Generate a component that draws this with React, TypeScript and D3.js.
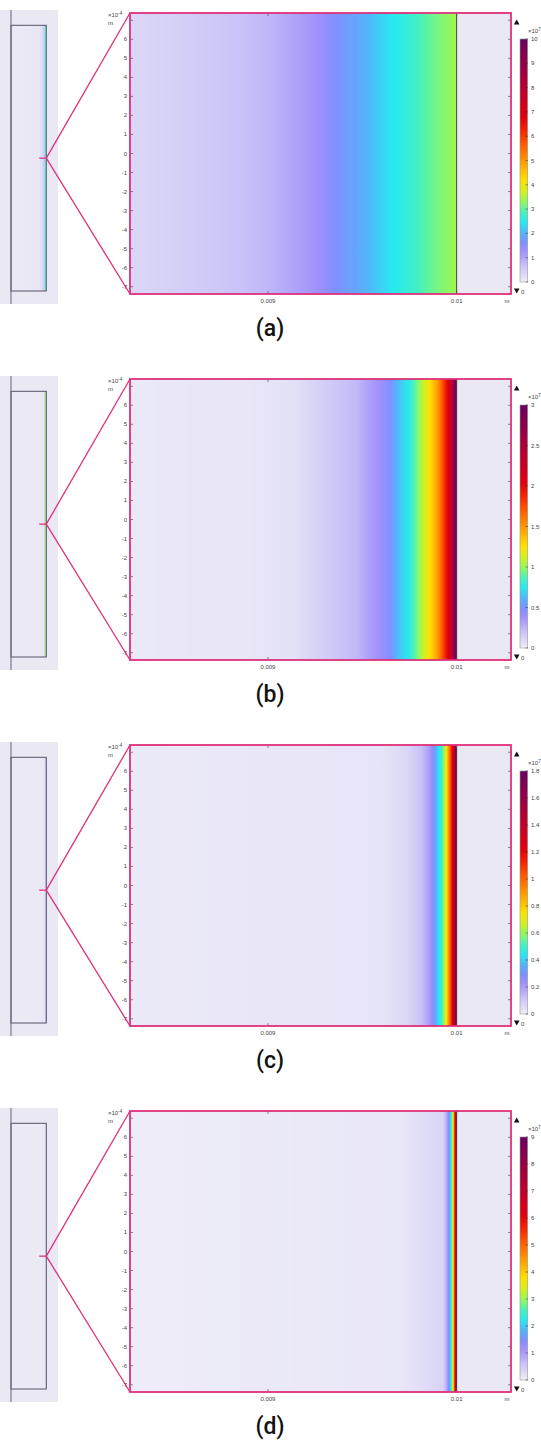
import React from "react";
import * as d3 from "d3";

// ---------- data ----------
const panelLabels = ["(a)", "(b)", "(c)", "(d)"];
const colorMax = [10, 3, 1.8, 9];
const colorTicks = [
  [0, 1, 2, 3, 4, 5, 6, 7, 8, 9, 10],
  [0, 0.5, 1, 1.5, 2, 2.5, 3],
  [0, 0.2, 0.4, 0.6, 0.8, 1, 1.2, 1.4, 1.6, 1.8],
  [0, 1, 2, 3, 4, 5, 6, 7, 8, 9],
];

// field profile along x (m), value in colour-bar units
const posA = [0, 0.0081, 0.008269, 0.0085, 0.00875, 0.009, 0.00913, 0.00925, 0.00934, 0.00951, 0.00966, 0.0098, 0.0099, 0.01];
const valA = [0, 0.15, 0.35, 0.45, 0.6, 0.8, 1.0, 1.25, 1.55, 2.0, 2.45, 2.85, 3.15, 3.4];
const posB = [0, 0.0082, 0.008947, 0.009127, 0.009302, 0.009477, 0.009567, 0.009636, 0.009689, 0.009742, 0.009795, 0.009848, 0.009901, 0.009938, 0.009965, 0.009991, 0.01];
const valB = [0, 0.02, 0.04, 0.06, 0.15, 0.24, 0.36, 0.45, 0.63, 0.74, 0.96, 1.2, 1.5, 1.86, 2.16, 2.85, 3.0];
const posC = [0, 0.008269, 0.009594, 0.009737, 0.009806, 0.009848, 0.009874, 0.009901, 0.009922, 0.009938, 0.009949, 0.009965, 0.00998, 0.009991, 0.01];
const valC = [0, 0.01, 0.027, 0.063, 0.117, 0.18, 0.27, 0.414, 0.504, 0.648, 0.792, 1.008, 1.26, 1.53, 1.8];
const posD = [0, 0.008269, 0.0097, 0.009927, 0.009949, 0.009959, 0.00997, 0.009975, 0.009982, 0.009987, 0.009993, 0.009996, 0.01];
const valD = [0, 0.02, 0.09, 0.36, 0.9, 1.53, 2.2, 2.88, 3.78, 5.04, 6.3, 8.1, 9.0];
const profilePos = [posA, posB, posC, posD];
const profileVal = [valA, valB, valC, valD];

const yTicks = [-7, -6, -5, -4, -3, -2, -1, 0, 1, 2, 3, 4, 5, 6, 7];
const yTickLabels = ["-7", "-6", "-5", "-4", "-3", "-2", "-1", "0", "1", "2", "3", "4", "5", "6", ""];
const xTicks = [0.009, 0.01];
const xTickLabels = ["0.009", "0.01"];
const xDomain = [0.008269, 0.010288];
const yDomain = [-7.38, 7.38];
const domainEdge = 0.01;
const insetEdgeSample = 0.0098;

// colour map (normalized position -> colour)
const cmapT = [0, 0.04, 0.07, 0.1, 0.13, 0.16, 0.2, 0.245, 0.28, 0.33, 0.37, 0.42, 0.49, 0.56, 0.63, 0.68, 0.8, 0.9, 1.0];
const cmapColors = ["#efeef8", "#d8d4f6", "#c8c0f8", "#b0a4f8", "#a090fc", "#8090ff", "#58b0fc", "#28e8f0", "#40f0c8", "#90f860", "#d0f020", "#ffe000", "#ffa000", "#ff6000", "#f02000", "#e00010", "#b80030", "#900048", "#6a0060"];

// ---------- layout ----------
const W = 541;
const H = 1441;
const PANEL_DY = 366;
const MAGENTA = "#e0307a";
const BG = "#eae8f3";
const FONT = "'Liberation Sans', 'DejaVu Sans', sans-serif";

const cmap = d3
  .scaleLinear<string>()
  .domain(cmapT)
  .range(cmapColors)
  .interpolate(d3.interpolateRgb)
  .clamp(true);

const xScale = d3.scaleLinear().domain(xDomain).range([130, 511]);
const yScale = d3.scaleLinear().domain(yDomain).range([294, 13]);
const insetX = d3.scaleLinear().domain([0, domainEdge]).range([11, 46.3]);
const insetY = d3.scaleLinear().domain([-1, 1]).range([291, 25.3]);

function Panel({ i }: { i: number }) {
  const prof = d3.scaleLinear().domain(profilePos[i]).range(profileVal[i]).clamp(true);
  const max = colorMax[i];
  const cbScale = d3.scaleLinear().domain([0, max]).range([282, 39]);
  const colorAt = (xm: number) => cmap(prof(xm) / max);

  const x0 = xScale(xDomain[0]);
  const x1 = xScale(domainEdge);
  const steps = Math.ceil((x1 - x0) * 4);
  const mainStops = d3.range(steps + 1).map((k) => {
    const px = x0 + ((x1 - x0) * k) / steps;
    return { off: k / steps, c: colorAt(xScale.invert(px)) };
  });
  const ix0 = insetX(0);
  const ix1 = insetX(domainEdge);
  const isteps = 200;
  const insetStops = d3.range(isteps + 1).map((k) => {
    const px = ix0 + ((ix1 - ix0) * k) / isteps;
    return { off: k / isteps, c: colorAt(insetX.invert(px)) };
  });

  const gid = `g-main-${i}`;
  const iid = `g-inset-${i}`;
  const cid = `g-cb-${i}`;
  const yc = insetY(0);
  const tickColor = "#555";
  const fs = 6;

  return (
    <g transform={`translate(0, ${i * PANEL_DY})`}>
      <defs>
        <linearGradient id={gid} gradientUnits="userSpaceOnUse" x1={x0} x2={x1} y1={0} y2={0}>
          {mainStops.map((s, k) => (
            <stop key={k} offset={s.off} stopColor={s.c} />
          ))}
        </linearGradient>
        <linearGradient id={iid} gradientUnits="userSpaceOnUse" x1={ix0} x2={ix1} y1={0} y2={0}>
          {insetStops.map((s, k) => (
            <stop key={k} offset={s.off} stopColor={s.c} />
          ))}
        </linearGradient>
        <linearGradient id={cid} gradientUnits="userSpaceOnUse" x1={0} x2={0} y1={cbScale(0)} y2={cbScale(max)}>
          {cmapT.map((t, k) => (
            <stop key={k} offset={t} stopColor={cmapColors[k]} />
          ))}
        </linearGradient>
      </defs>

      {/* inset overview */}
      <rect x={0} y={10} width={58} height={294} fill={BG} />
      <rect x={ix0} y={insetY(1)} width={ix1 - ix0} height={insetY(-1) - insetY(1)} fill={`url(#${iid})`} opacity={0.35} />
      <line x1={ix1 - 0.9} x2={ix1 - 0.9} y1={insetY(1)} y2={insetY(-1)} stroke={colorAt(insetEdgeSample)} strokeWidth={1} />
      <rect x={ix0} y={insetY(1)} width={ix1 - ix0} height={insetY(-1) - insetY(1)} fill="none" stroke="#55556a" strokeWidth={1} />
      <line x1={ix0} x2={ix0} y1={10} y2={304} stroke="#66667a" strokeWidth={1} />
      <line x1={insetX(xDomain[0]) - 1} x2={ix1} y1={yc} y2={yc} stroke={MAGENTA} strokeWidth={1.3} />

      {/* zoom lines */}
      <line x1={ix1} y1={yc} x2={xScale(xDomain[0])} y2={yScale(yDomain[1])} stroke={MAGENTA} strokeWidth={1.3} />
      <line x1={ix1} y1={yc} x2={xScale(xDomain[0])} y2={yScale(yDomain[0])} stroke={MAGENTA} strokeWidth={1.3} />

      {/* main plot */}
      <rect x={xScale(xDomain[0])} y={yScale(yDomain[1])} width={xScale(xDomain[1]) - xScale(xDomain[0])} height={yScale(yDomain[0]) - yScale(yDomain[1])} fill={BG} />
      <rect x={x0} y={yScale(yDomain[1])} width={x1 - x0} height={yScale(yDomain[0]) - yScale(yDomain[1])} fill={`url(#${gid})`} />
      <line x1={x1} x2={x1} y1={yScale(yDomain[1])} y2={yScale(yDomain[0])} stroke="#333" strokeWidth={0.9} />

      {/* ticks */}
      {yTicks.map((t) => (
        <g key={`yt${t}`}>
          <line x1={130} x2={133} y1={yScale(t)} y2={yScale(t)} stroke={tickColor} strokeWidth={0.7} />
          <line x1={508} x2={511} y1={yScale(t)} y2={yScale(t)} stroke={tickColor} strokeWidth={0.7} />
        </g>
      ))}
      {yTicks.map((t, k) => (
        <text key={`yl${t}`} x={127} y={yScale(t) + 2} fontSize={fs} textAnchor="end" fill="#444" fontFamily={FONT}>
          {yTickLabels[k]}
        </text>
      ))}
      {xTicks.map((t, k) => (
        <g key={`xt${k}`}>
          <line x1={xScale(t)} x2={xScale(t)} y1={294} y2={291} stroke={tickColor} strokeWidth={0.7} />
          <line x1={xScale(t)} x2={xScale(t)} y1={13} y2={16} stroke={tickColor} strokeWidth={0.7} />
          <text x={xScale(t)} y={303} fontSize={fs} textAnchor="middle" fill="#444" fontFamily={FONT}>
            {xTickLabels[k]}
          </text>
        </g>
      ))}
      <text x={507} y={303} fontSize={fs} textAnchor="middle" fill="#444" fontFamily={FONT}>m</text>
      <text x={108} y={17} fontSize={fs} fill="#444" fontFamily={FONT}>
        ×10<tspan dy={-2.5} fontSize={4.5}>-4</tspan>
      </text>
      <text x={108} y={25} fontSize={fs} fill="#444" fontFamily={FONT}>m</text>

      <rect x={xScale(xDomain[0])} y={yScale(yDomain[1])} width={xScale(xDomain[1]) - xScale(xDomain[0])} height={yScale(yDomain[0]) - yScale(yDomain[1])} fill="none" stroke={MAGENTA} strokeWidth={1.8} />

      {/* colour bar */}
      <path d={`M${516.7 - 2.8},${24.5} L${516.7 + 2.8},${24.5} L${516.7},${19.5} Z`} fill="#111" />
      <path d={`M${516.7 - 2.8},${288.5} L${516.7 + 2.8},${288.5} L${516.7},${293.5} Z`} fill="#111" />
      <text x={521} y={293.5} fontSize={fs} fill="#444" fontFamily={FONT}>0</text>
      <rect x={520} y={cbScale(max)} width={7.7} height={cbScale(0) - cbScale(max)} fill={`url(#${cid})`} stroke="#999" strokeWidth={0.6} />
      {colorTicks[i].map((t, k) => (
        <g key={`cb${k}`}>
          <line x1={525.7} x2={527.7} y1={cbScale(t)} y2={cbScale(t)} stroke="#333" strokeWidth={0.6} />
          <text x={531} y={cbScale(t) + 2} fontSize={fs} fill="#444" fontFamily={FONT}>
            {String(t)}
          </text>
        </g>
      ))}
      <text x={528} y={cbScale(max) - 6} fontSize={fs} fill="#444" fontFamily={FONT}>
        ×10<tspan dy={-2.5} fontSize={4.5}>7</tspan>
      </text>

      {/* panel label */}
      <text x={270} y={336} fontSize={23} textAnchor="middle" fill="#111" fontFamily="'Roboto', 'DejaVu Sans', sans-serif" fontWeight={500}>
        {panelLabels[i]}
      </text>
    </g>
  );
}

export default function App() {
  return (
    <svg
      width={W}
      height={H}
      viewBox={`0 0 ${W} ${H}`}
      style={{ position: "absolute", left: 0, top: 0, display: "block", background: "#fff" }}
    >
      <rect x={0} y={0} width={W} height={H} fill="#fff" />
      {panelLabels.map((_, i) => (
        <Panel key={i} i={i} />
      ))}
    </svg>
  );
}
